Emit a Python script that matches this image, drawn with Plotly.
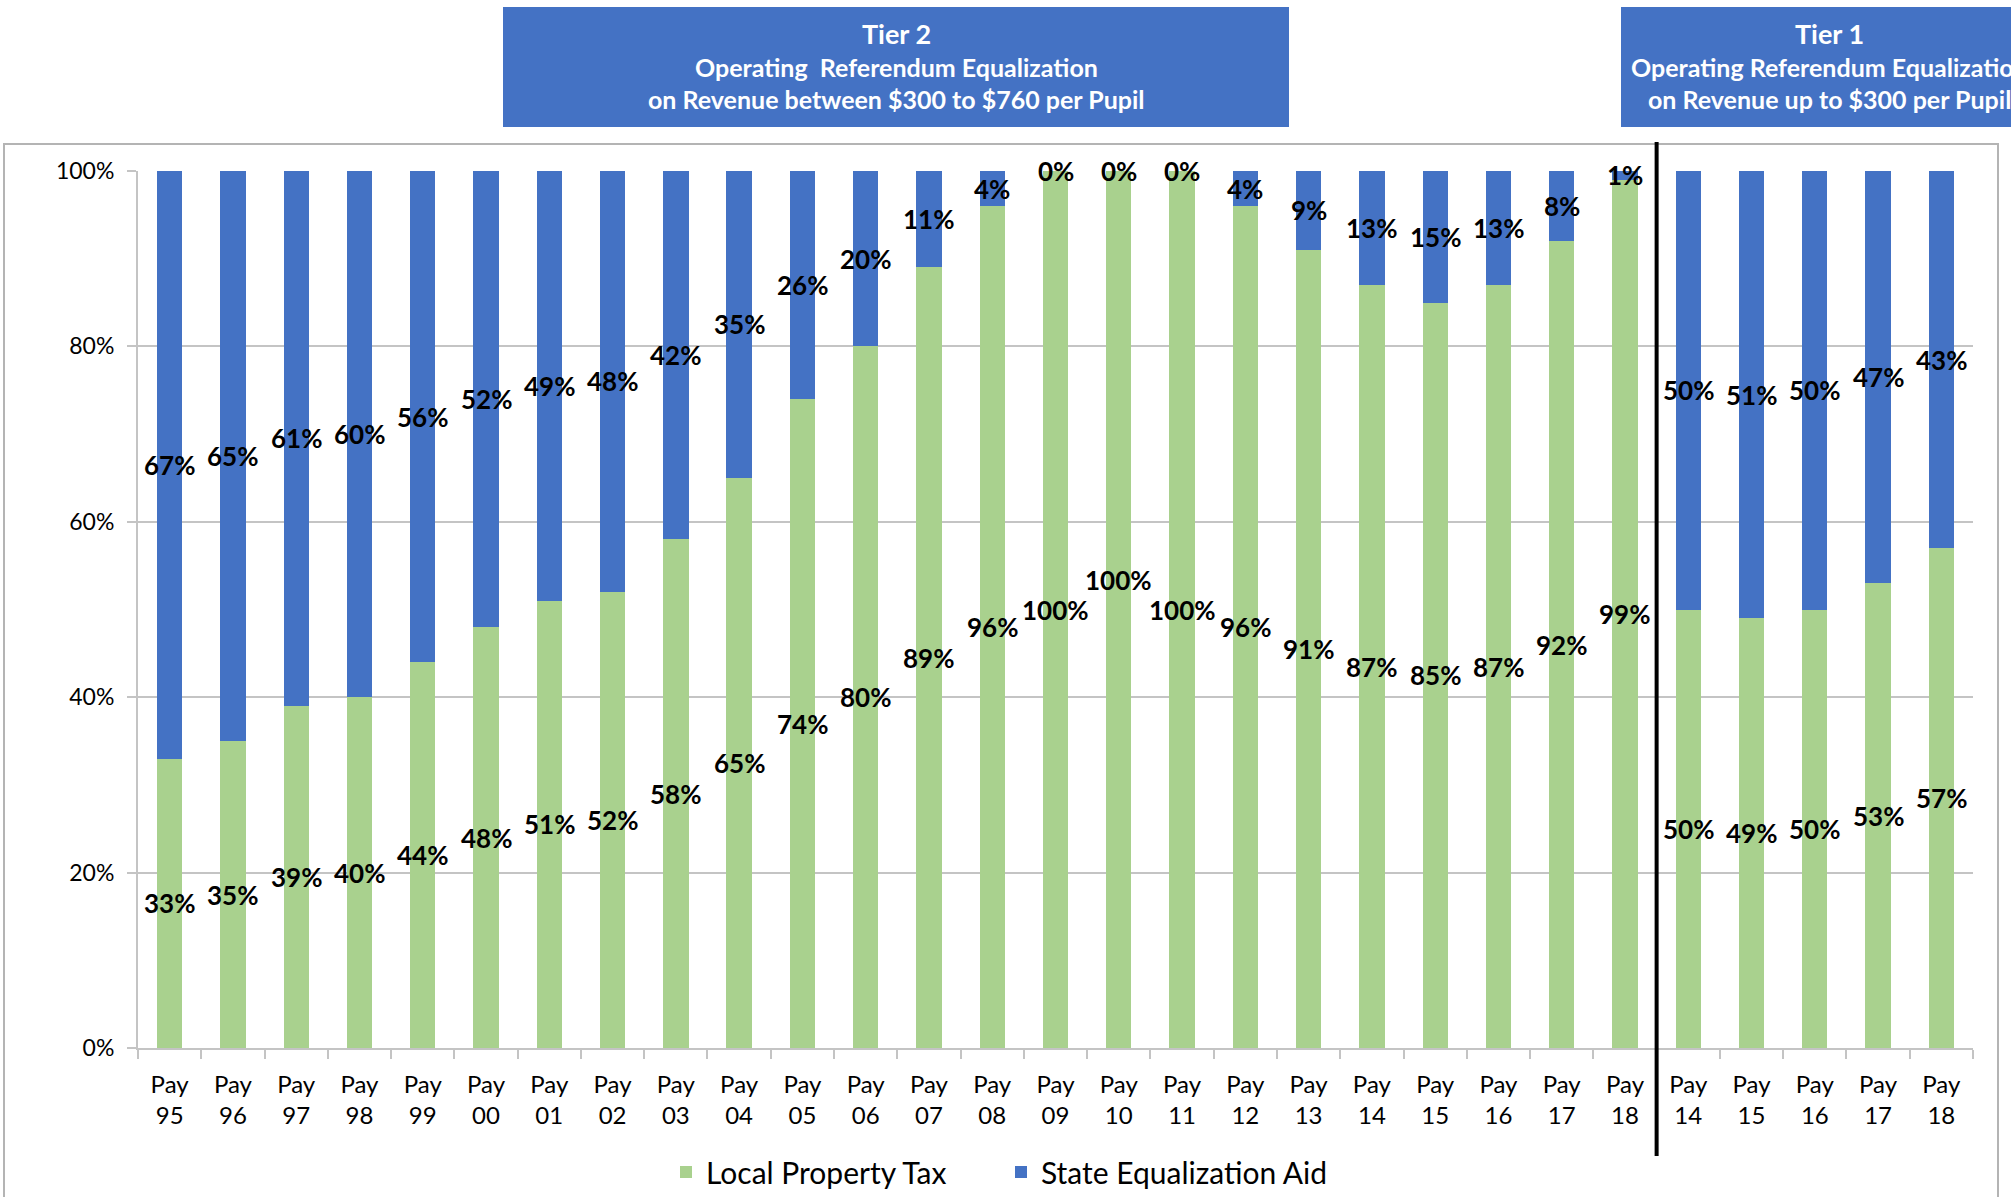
import plotly.graph_objects as go

# Share of operating referendum revenue by source, per payable year
categories = ["Pay<br>95", "Pay<br>96", "Pay<br>97", "Pay<br>98", "Pay<br>99", "Pay<br>00",
              "Pay<br>01", "Pay<br>02", "Pay<br>03", "Pay<br>04", "Pay<br>05", "Pay<br>06",
              "Pay<br>07", "Pay<br>08", "Pay<br>09", "Pay<br>10", "Pay<br>11", "Pay<br>12",
              "Pay<br>13", "Pay<br>14", "Pay<br>15", "Pay<br>16", "Pay<br>17", "Pay<br>18",
              "Pay<br>14", "Pay<br>15", "Pay<br>16", "Pay<br>17", "Pay<br>18"]
local_property_tax = [33, 35, 39, 40, 44, 48, 51, 52, 58, 65, 74, 80, 89, 96, 100, 100, 100, 96,
                      91, 87, 85, 87, 92, 99, 50, 49, 50, 53, 57]
state_equalization_aid = [67, 65, 61, 60, 56, 52, 49, 48, 42, 35, 26, 20, 11, 4, 0, 0, 0, 4,
                          9, 13, 15, 13, 8, 1, 50, 51, 50, 47, 43]
y_ticks = [0, 20, 40, 60, 80, 100]
y_tick_text = ["0%", "20%", "40%", "60%", "80%", "100%"]
tier2_lines = ["Tier 2", "Operating  Referendum Equalization",
               "on Revenue between $300 to $760 per Pupil"]
tier1_lines = ["Tier 1", "Operating Referendum Equalization",
               "on Revenue up to $300 per Pupil"]

GREEN = "#A9D18E"
BLUE = "#4472C4"
GRID = "#C4C4C4"
FONT = "Lato"

# plot-area geometry in pixels
W_FIG, H_FIG = 2011, 1197
L, R, T, B = 138, 1973, 171, 1048
PW, PH = R - L, B - T


def px_x(p):
    return (p - L) / PW


def px_y(p):
    return (B - p) / PH


x = list(range(len(categories)))

fig = go.Figure()
fig.add_trace(go.Bar(x=x, y=local_property_tax, name="Local Property Tax",
                     marker=dict(color=GREEN, line=dict(width=0))))
fig.add_trace(go.Bar(x=x, y=state_equalization_aid, name="State Equalization Aid",
                     marker=dict(color=BLUE, line=dict(width=0))))

annotations = []
# data labels centred in each stacked segment
label_nudge = {(15, "local"): 30}
for i in x:
    lp, sa = local_property_tax[i], state_equalization_aid[i]
    for key, yc, val in (("local", lp / 2, lp), ("state", lp + sa / 2, sa)):
        annotations.append(dict(x=i, y=yc, xref="x", yref="y", text=f"{val}%",
                                showarrow=False, yshift=label_nudge.get((i, key), 0),
                                font=dict(family=FONT, size=26, color="black", weight="bold")))

shapes = []
# outer chart border
shapes.append(dict(type="rect", xref="paper", yref="paper",
                   x0=px_x(4), x1=px_x(1998), y0=px_y(1260), y1=px_y(144),
                   line=dict(color="#B4B4B4", width=2), fillcolor="rgba(0,0,0,0)", layer="below"))
# header boxes
line_y = [33, 67, 99]
line_size = [27, 25, 25]
for (bx0, bx1, cx, lines) in ((503, 1289, 896, tier2_lines), (1621, 2041, 1829, tier1_lines)):
    shapes.append(dict(type="rect", xref="paper", yref="paper",
                       x0=px_x(bx0), x1=px_x(bx1), y0=px_y(127), y1=px_y(7),
                       line=dict(width=0), fillcolor=BLUE))
    for txt, yy, fs in zip(lines, line_y, line_size):
        annotations.append(dict(x=px_x(cx), y=px_y(yy), xref="paper", yref="paper",
                                text=txt, showarrow=False, xanchor="center", yanchor="middle",
                                font=dict(family=FONT, size=fs, color="white", weight="bold")))
# divider between tier 2 and tier 1 years
shapes.append(dict(type="line", xref="x", yref="paper", x0=23.5, x1=23.5,
                   y0=px_y(1156), y1=px_y(142), line=dict(color="black", width=4)))

fig.update_layout(
    width=W_FIG, height=H_FIG,
    margin=dict(l=L, r=W_FIG - R, t=T, b=H_FIG - B, autoexpand=False),
    barmode="stack", bargap=0.6,
    plot_bgcolor="white", paper_bgcolor="white",
    font=dict(family=FONT, color="black"),
    shapes=shapes, annotations=annotations,
    legend=dict(orientation="h", x=px_x(1001), xanchor="center", y=px_y(1172), yanchor="middle",
                font=dict(family=FONT, size=30, color="black"), traceorder="normal",
                itemwidth=30, entrywidth=290),
    xaxis=dict(range=[-0.5, len(categories) - 0.5], tickvals=x, ticktext=categories,
               ticks="", ticklen=0, ticklabelstandoff=14, showgrid=False, showline=True,
               linecolor=GRID, linewidth=2, automargin=False,
               tickfont=dict(family=FONT, size=24, color="black"), zeroline=False,
               minor=dict(tickvals=[i - 0.5 for i in range(len(categories) + 1)],
                          ticks="outside", ticklen=9, tickcolor=GRID, tickwidth=2)),
    yaxis=dict(range=[0, 100], tickvals=y_ticks, ticktext=y_tick_text, showgrid=True,
               gridcolor=GRID, gridwidth=2, showline=True, linecolor=GRID, linewidth=2,
               ticks="outside", ticklen=9, tickcolor=GRID, tickwidth=2, zeroline=False,
               ticklabelstandoff=8, automargin=False,
               tickfont=dict(family=FONT, size=23, color="black")),
)

fig.write_html("out.html")
